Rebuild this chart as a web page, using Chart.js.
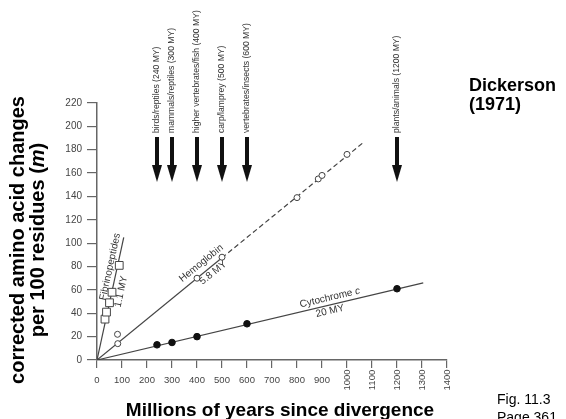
<!DOCTYPE html>
<html>
<head>
<meta charset="utf-8">
<script src="https://cdn.jsdelivr.net/npm/chart.js@4.4.0/dist/chart.umd.min.js"></script>
<style>
  html, body { margin: 0; padding: 0; background: #fff; }
  #wrap { width: 566px; height: 419px; }
</style>
</head>
<body>
<div id="wrap"><canvas id="myChart" width="566" height="419"></canvas></div>
<script>
// values (x: millions of years, y: changes per 100 residues)
const fibX = [32, 38, 50, 60, 89];
const fibY = [35, 41, 49, 58, 81];
const fibLineX = [0, 107];
const fibLineY = [0, 105];

const hemoX = [83, 82, 400, 500, 800, 885, 900, 1000];
const hemoY = [14, 22, 70, 88, 139, 155, 158, 176];
const hemoLineX = [0, 500, 1070];
const hemoLineY = [0, 87.5, 187];

const cytoX = [240, 300, 400, 600, 1200];
const cytoY = [13, 15, 20, 31, 61];
const cytoLineX = [0, 1305];
const cytoLineY = [0, 66];

const divergenceMY = [240, 300, 400, 500, 600, 1200];
const divergenceLabels = [
    'birds/reptiles (240 MY)',
    'mammals/reptiles (300 MY)',
    'higher vertebrates/fish (400 MY)',
    'carp/lamprey (500 MY)',
    'vertebrates/insects (600 MY)',
    'plants/animals (1200 MY)'
];

const FONT = '"Liberation Sans", Arial, Helvetica, sans-serif';
Chart.defaults.font.family = FONT;

function toPoints(xs, ys) {
    return xs.map((x, i) => ({ x: x, y: ys[i] }));
}

// draws text made of [string, italic?] parts, centred on (cx, cy)
function drawParts(ctx, parts, cx, cy, size, weight) {
    const fonts = parts.map(p => (p[1] ? 'italic ' : '') + (weight ? weight + ' ' : '') + size + 'px ' + FONT);
    let total = 0;
    const widths = parts.map((p, i) => { ctx.font = fonts[i]; const w = ctx.measureText(p[0]).width; total += w; return w; });
    let x = cx - total / 2;
    ctx.textAlign = 'left';
    parts.forEach((p, i) => {
        ctx.font = fonts[i];
        ctx.fillText(p[0], x, cy);
        x += widths[i];
    });
}

// label a fitted line: name above it, rate below it, rotated along the line
function labelLine(chart, lx, ly, nameParts, rate, nameAt, rateAt) {
    const ctx = chart.ctx;
    const xs = chart.scales.x, ys = chart.scales.y;
    const x0 = xs.getPixelForValue(lx[0]), y0 = ys.getPixelForValue(ly[0]);
    const x1 = xs.getPixelForValue(lx[lx.length - 1]), y1 = ys.getPixelForValue(ly[ly.length - 1]);
    const angle = Math.atan2(y1 - y0, x1 - x0);
    ctx.save();
    ctx.translate(x0, y0);
    ctx.rotate(angle);
    ctx.fillStyle = '#333';
    ctx.textBaseline = 'middle';
    drawParts(ctx, nameParts, nameAt[0], nameAt[1], 10);
    drawParts(ctx, [[rate, false]], rateAt[0], rateAt[1], 10);
    ctx.restore();
}

const annotatePlugin = {
    id: 'annotate',
    afterDraw(chart) {
        const ctx = chart.ctx;
        const xs = chart.scales.x;
        ctx.save();

        // x tick labels, the 4-digit ones turned on their side
        ctx.fillStyle = '#444';
        ctx.font = '9.5px ' + FONT;
        ctx.textAlign = 'center';
        ctx.textBaseline = 'middle';
        xs.ticks.forEach(t => {
            const px = xs.getPixelForValue(t.value);
            if (t.value < 1000) {
                ctx.fillText(String(t.value), px, 380);
            } else {
                ctx.save();
                ctx.translate(px, 380);
                ctx.rotate(-Math.PI / 2);
                ctx.fillText(String(t.value), 0, 0);
                ctx.restore();
            }
        });

        // divergence arrows
        divergenceMY.forEach((v, i) => {
            const px = xs.getPixelForValue(v);
            ctx.fillStyle = '#111';
            ctx.fillRect(px - 2, 137, 4, 29);
            ctx.beginPath();
            ctx.moveTo(px - 5, 165);
            ctx.lineTo(px + 5, 165);
            ctx.lineTo(px, 182);
            ctx.closePath();
            ctx.fill();
            ctx.save();
            ctx.translate(px, 133);
            ctx.rotate(-Math.PI / 2);
            ctx.font = '8.6px ' + FONT;
            ctx.fillStyle = '#333';
            ctx.textAlign = 'left';
            ctx.textBaseline = 'middle';
            ctx.fillText(divergenceLabels[i], 0, 0);
            ctx.restore();
        });

        // line labels
        labelLine(chart, fibLineX, fibLineY, [['Fibrinopeptides', false]], '1.1 MY', [94, -7], [72, 9]);
        labelLine(chart, hemoLineX, hemoLineY, [['Hemoglobin', false]], '5.8 MY', [142, -9], [145, 6]);
        labelLine(chart, cytoLineX, cytoLineY, [['Cytochrome ', false], ['c', true]], '20 MY', [241, -7], [238, 6]);

        // axis titles
        ctx.fillStyle = '#000';
        ctx.textBaseline = 'alphabetic';
        ctx.save();
        ctx.translate(24, 240);
        ctx.rotate(-Math.PI / 2);
        drawParts(ctx, [['corrected amino acid changes', false]], 0, 0, 20, 'bold');
        drawParts(ctx, [['per 100 residues (', false], ['m', true], [')', false]], 0, 20, 20, 'bold');
        ctx.restore();

        ctx.font = 'bold 19px ' + FONT;
        ctx.textAlign = 'center';
        ctx.fillText('Millions of years since divergence', 280, 416);

        // source notes
        ctx.textAlign = 'left';
        ctx.font = 'bold 18px ' + FONT;
        ctx.fillText('Dickerson', 469, 91);
        ctx.fillText('(1971)', 469, 110);
        ctx.font = '14px ' + FONT;
        ctx.fillText('Fig. 11.3', 497, 404);
        ctx.fillText('Page 361', 497, 422);

        ctx.restore();
    }
};

new Chart(document.getElementById('myChart'), {
    type: 'scatter',
    data: {
        datasets: [
            {
                label: 'Fibrinopeptides',
                data: toPoints(fibX, fibY),
                pointStyle: 'rect',
                pointRadius: 5.5,
                pointBorderWidth: 1,
                pointBorderColor: '#444',
                pointBackgroundColor: '#fff'
            },
            {
                label: 'Hemoglobin',
                data: toPoints(hemoX, hemoY),
                pointRadius: 3,
                pointBorderWidth: 1,
                pointBorderColor: '#444',
                pointBackgroundColor: '#fff'
            },
            {
                label: 'Cytochrome c',
                data: toPoints(cytoX, cytoY),
                pointRadius: 3.3,
                pointBorderColor: '#111',
                pointBackgroundColor: '#111'
            },
            {
                label: 'Fibrinopeptides fit',
                data: toPoints(fibLineX, fibLineY),
                showLine: true,
                pointRadius: 0,
                borderColor: '#444',
                borderWidth: 1.2
            },
            {
                label: 'Hemoglobin fit',
                data: toPoints(hemoLineX, hemoLineY),
                showLine: true,
                pointRadius: 0,
                borderColor: '#444',
                borderWidth: 1.2,
                segment: {
                    borderDash: c => (c.p0.parsed.x >= 500 ? [5, 3] : undefined)
                }
            },
            {
                label: 'Cytochrome c fit',
                data: toPoints(cytoLineX, cytoLineY),
                showLine: true,
                pointRadius: 0,
                borderColor: '#444',
                borderWidth: 1.2
            }
        ]
    },
    options: {
        responsive: false,
        animation: false,
        layout: { padding: { left: 0, top: 103, right: 119, bottom: 0 } },
        plugins: {
            legend: { display: false },
            tooltip: { enabled: false }
        },
        scales: {
            x: {
                type: 'linear',
                min: 0,
                max: 1400,
                ticks: { stepSize: 100, display: false },
                grid: { drawOnChartArea: false, tickLength: 8, color: '#666', lineWidth: 1.2 },
                border: { color: '#666', width: 1.5 },
                afterFit: s => { s.height = 59; }
            },
            y: {
                type: 'linear',
                min: 0,
                max: 220,
                ticks: { stepSize: 20, color: '#444', padding: 5, font: { size: 10 } },
                grid: { drawOnChartArea: false, tickLength: 10, color: '#666', lineWidth: 1.2 },
                border: { color: '#666', width: 1.5 },
                afterFit: s => { s.width = 97; }
            }
        }
    },
    plugins: [annotatePlugin]
});
</script>
</body>
</html>
